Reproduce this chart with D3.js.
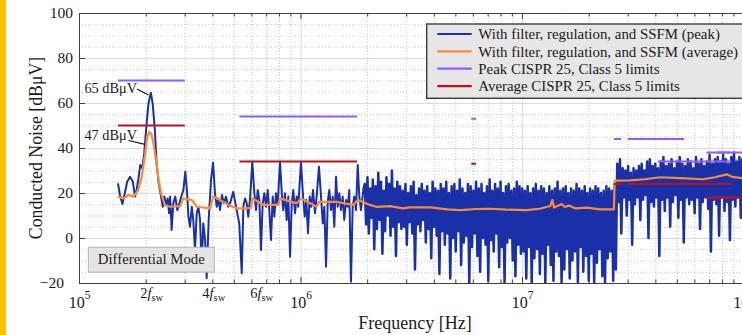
<!DOCTYPE html>
<html>
<head>
<meta charset="utf-8">
<script src="https://cdn.jsdelivr.net/npm/d3@7"></script>
<style>
  html, body { margin: 0; padding: 0; background: #fff; }
  svg { display: block; }
  text { font-family: "Liberation Serif", "Times New Roman", serif; fill: #1a1a1a; }
</style>
</head>
<body>
<svg id="chart" width="742" height="335"></svg>
<script>
// ---- data (frequencies in MHz, levels in dBuV) ----
// peak trace, low-frequency part where single harmonics are visible
const peakMHz = [0.150,0.153,0.157,0.161,0.165,0.170,0.175,0.179,0.182,0.186,
  0.189,0.193,0.197,0.202,0.206,0.211,0.215,0.220,0.224,0.229,
  0.234,0.239,0.243,0.247,0.2515,0.255,0.258,0.262,0.2665,0.272,
  0.278,0.284,0.291,0.296,0.302,0.307,0.312,0.317,0.323,0.328,
  0.334,0.340,0.346,0.352,0.358,0.364,0.371,0.377,0.385,0.3945,
  0.403,0.411,0.4185,0.4255,0.433,0.442,0.451,0.461,0.472,0.483,
  0.497,0.515,0.529,0.543,0.552,0.562,0.572,0.581,0.592,0.606,
  0.619,0.630,0.641,0.652,0.663,0.675,0.6865,0.699,0.711,0.723,
  0.736,0.749,0.762,0.775,0.789,0.808,0.825,0.836,0.851,0.866,
  0.881,0.897,0.913,0.928,0.9445,0.961,0.977,1.005,1.026,1.045,
  1.062,1.081,1.100,1.119,1.139,1.163,1.183,1.212,1.238,1.260,
  1.281,1.304,1.327,1.349,1.373,1.398,1.421,1.447,1.472,1.497,
  1.523,1.550,1.576,1.605,1.633,1.660,1.690,1.720,1.749,1.780,
  1.813,1.843,1.875,1.921];
const peakDB = [24.3,19.1,15.1,19.9,25,27.2,25,18.4,21.3,27.2,
  32.4,31,37.6,51,59.9,64.6,59.9,48,33.2,24.3,
  19.1,13.9,18.4,14.7,17.6,11,18.4,3.6,15.4,18.4,
  12.4,15.4,19.1,21.3,29.5,21.3,9.5,5,13.9,8,
  -5.3,11,13.9,8,-12.8,6.5,-0.9,-17.9,8,25.8,
  33.5,19.9,13.9,17.6,12.4,19.1,15.4,18.4,13.9,16,
  20.6,12.4,6.5,-15.7,13.9,17.6,15.4,9.5,17.6,33.9,
  19.9,12.4,21.3,16.9,-5.3,15.4,19.9,13.9,21.3,12.4,
  -0.9,18.4,9.5,19.9,14.7,33.9,18.4,12.4,19.9,8,
  18.4,-8.3,15.4,21.3,11,18.4,13.9,33.9,19.1,9.5,
  16.9,2.1,18.4,13.9,21.3,11,18.4,31.7,18.4,6.5,
  13.9,-12.8,16.1,21.3,12.4,18.4,5,27.2,13.9,19.9,
  12.4,18.4,8,16.9,13.9,21.3,-19.4,13.9,18.4,12.4,
  32.4,18.4,12.4,21.3];

// peak trace, dense part: measurement bins from 1.95 MHz to 100 MHz,
// read as alternating upper / lower excursions
const denseStartMHz = 1.95;
const denseStopMHz = 100;
const denseTop = [24,27,22,26,23,29,25,21,27,24,30,22,25,23,
  21,24,20,23,25,19,22,24,21,23,20,25,22,21,24,
  22,25,20,23,24,21,26,22,20,24,23,21,25,22,24,20,23,26,21,24,22,25,20,23,24,21,22,25,23,
  22,21,23,20,22,24,21,23,22,20,23,21,22,25,21,22,23,20,22,21,24,22,21,23,20,22,21,23,22,20,21,23,22,21,24,
  33,35,31,30,32,29,31,30,32,33,30,34,35,32,33,31,34,36,32,33,35,31,34,36,33,32,35,34,31,36,
  33,35,32,34,37,33,35,36,34,37,35,33,36,38,34,36,35];
const denseBottom = [6,2,9,-5,4,8,-7,3,10,1,5,-8,7,4,
  5,-3,7,2,-14,6,3,8,-2,4,-9,5,1,-16,3,
  -3,2,-18,0,-6,3,-12,-2,1,-20,-4,2,-8,-15,0,-3,-19,-1,-6,2,-13,-4,-20,-2,0,-10,-17,-3,-7,
  -6,-18,-4,-20,-9,-5,-16,-7,-20,-3,-12,-19,-6,-8,-20,-14,-5,-18,-10,-6,-20,-4,-15,-8,-19,-7,-20,-11,-5,-17,-20,-9,-6,-19,-14,
  16,2,18,10,17,-3,15,18,8,17,19,0,16,14,18,-8,17,12,18,5,16,19,9,17,-2,18,15,17,11,18,
  4,16,18,13,-6,17,15,1,18,12,16,-1,17,14,18,9,16];

// average trace
const avgMHz = [0.150,0.1585,0.167,0.176,0.185,0.192,0.199,0.203,0.208,0.213,
  0.218,0.224,0.230,0.236,0.244,0.2575,0.286,0.296,0.323,0.340,
  0.390,0.404,0.433,0.472,0.515,0.572,0.598,0.606,0.680,0.794,
  0.808,0.961,1.005,1.183,1.212,1.457,1.60,1.731,1.813,1.90,
  2.06,2.21,2.54,2.90,3.12,3.84,4.60,5.25,6.2,7.17,
  8.5,10.5,12.0,13.4,13.7,13.95,15.1,15.6,16.3,17.35,
  19.6,22.5,26.0,26.2,30.7,35.9,42.0,51.7,65.8,74.3,
  84.0,88.8,100];
const avgDB = [18.4,17.6,19.1,18.4,21.3,27.2,37.6,45.0,47.2,45.8,
  40.6,33.2,24.3,19.1,14.7,13.9,14.2,17.6,16.9,13.9,
  13.2,18.4,16.9,14.7,13.2,13.2,13.4,17.6,14.7,14.7,
  17.6,15.4,17.6,13.9,16.1,16.1,15.3,14.7,16.9,16.1,
  14.7,13.8,14.2,13.2,13.6,13.6,12.7,12.4,12.9,13.0,
  12.6,12.4,13.0,14.2,16.9,13.6,15.1,13.8,14.4,13.2,
  13.5,12.7,12.7,25.5,25.6,26.1,27.0,26.6,26.1,27.0,
  28.3,27.2,26.5];

// CISPR 25 class 5 limits: [start MHz, stop MHz, dBuV]
const peakLimits = [[0.15,0.3,70],[0.53,1.8,54],[5.9,6.2,53],[26,28,44],[30,54,44],[41,88,34],[68,87,38],[76,108,38]];
const avgLimits = [[0.15,0.3,50],[0.53,1.8,34],[5.9,6.2,33],[26,28,24],[30,54,24],[41,88,24],[68,87,18],[76,108,18]];

const yTicks = [-20, 0, 20, 40, 60, 80, 100];
const xDecades = [1e5, 1e6, 1e7, 1e8];
const harmonicLabels = [['2', 0.213], ['4', 0.406], ['6', 0.668]];
const legendNames = [
  'With filter, regulation, and SSFM (peak)',
  'With filter, regulation, and SSFM (average)',
  'Peak CISPR 25, Class 5 limits',
  'Average CISPR 25, Class 5 limits'];
const notes = [
  // text, text right end [MHz, dB], leader from [MHz,dB] to [MHz,dB]
  { text: '65 dB\u03bcV', at: [0.1827, 64.3], from: [0.1827, 66.2], to: [0.206, 63.6] },
  { text: '47 dB\u03bcV', at: [0.1827, 43.6], from: [0.1673, 43.3], to: [0.1986, 41.6] }];

// ---- layout ----
const W = 742, H = 335;
const plot = { left: 79, top: 13, right: 743.5, bottom: 283 };
const colors = { peak: '#1a30a8', avg: '#ff8a30', peakLim: '#8e5cff', avgLim: '#c40d1e' };

const x = d3.scaleLog().domain([1e5, 1e8]).range([plot.left, plot.right]);
const y = d3.scaleLinear().domain([-20, 100]).range([plot.bottom, plot.top]);
const mx = d => x(d * 1e6);

const svg = d3.select('#chart');
svg.append('rect').attr('width', 6).attr('height', H).attr('fill', '#ffc000');

const minorX = [];
for (const d of xDecades.slice(0, 3)) for (let m = 2; m <= 9; m++) minorX.push(d * m);
const minorY = d3.range(-15, 100, 5).filter(v => v % 20 !== 0);
const ph = plot.bottom - plot.top, pw = plot.right - plot.left;

// grid
const grid = svg.append('g');
grid.append('g').attr('transform', `translate(0,${plot.bottom})`)
  .call(d3.axisBottom(x).tickValues(minorX).tickSize(-ph).tickFormat(''))
  .call(g => g.select('.domain').remove())
  .call(g => g.selectAll('line').attr('stroke', '#c4c4c4').attr('stroke-dasharray', '1,2'));
grid.append('g').attr('transform', `translate(${plot.left},0)`)
  .call(d3.axisLeft(y).tickValues(minorY).tickSize(-pw).tickFormat(''))
  .call(g => g.select('.domain').remove())
  .call(g => g.selectAll('line').attr('stroke', '#c4c4c4').attr('stroke-dasharray', '1,2'));
grid.append('g').attr('transform', `translate(0,${plot.bottom})`)
  .call(d3.axisBottom(x).tickValues(xDecades).tickSize(-ph).tickFormat(''))
  .call(g => g.select('.domain').remove())
  .call(g => g.selectAll('line').attr('stroke', '#dcdcdc'));
grid.append('g').attr('transform', `translate(${plot.left},0)`)
  .call(d3.axisLeft(y).tickValues(yTicks).tickSize(-pw).tickFormat(''))
  .call(g => g.select('.domain').remove())
  .call(g => g.selectAll('line').attr('stroke', '#dcdcdc'));

// data
svg.append('clipPath').attr('id', 'clip').append('rect')
  .attr('x', plot.left).attr('y', plot.top).attr('width', pw).attr('height', ph);
const layer = svg.append('g').attr('clip-path', 'url(#clip)');

const lowPts = peakMHz.map((f, i) => [f, peakDB[i]]);
const densePts = [lowPts[lowPts.length - 1]];
const nDense = denseTop.length * 2;
const ratio = denseStopMHz / denseStartMHz;
denseTop.forEach((t, k) => {
  densePts.push([denseStartMHz * Math.pow(ratio, (2 * k) / (nDense - 1)), t]);
  densePts.push([denseStartMHz * Math.pow(ratio, (2 * k + 1) / (nDense - 1)), denseBottom[k]]);
});
const line = d3.line().x(d => mx(d[0])).y(d => y(d[1]));

layer.append('path').datum(lowPts)
  .attr('fill', 'none').attr('stroke', colors.peak).attr('stroke-width', 2)
  .attr('stroke-linejoin', 'round').attr('d', line);
layer.append('path').datum(densePts)
  .attr('fill', 'none').attr('stroke', colors.peak).attr('stroke-width', 2.5)
  .attr('stroke-linejoin', 'round').attr('d', line);
layer.append('path').datum(avgMHz.map((f, i) => [f, avgDB[i]]))
  .attr('fill', 'none').attr('stroke', colors.avg).attr('stroke-width', 2.2)
  .attr('stroke-linejoin', 'round').attr('d', line);

[[peakLimits, colors.peakLim], [avgLimits, colors.avgLim]].forEach(([lims, c]) => {
  layer.selectAll(null).data(lims).enter().append('line')
    .attr('x1', d => mx(d[0])).attr('x2', d => mx(d[1]))
    .attr('y1', d => y(d[2])).attr('y2', d => y(d[2]))
    .attr('stroke', c).attr('stroke-width', 2.2);
});

// axes (ticks pointing inward)
const axisColor = '#404040';
function styleAxis(g) {
  g.selectAll('line').attr('stroke', axisColor);
  g.select('.domain').attr('stroke', axisColor);
}
svg.append('g').attr('transform', `translate(0,${plot.bottom})`)
  .call(d3.axisBottom(x).tickValues(minorX).tickSizeInner(-3.5).tickSizeOuter(0).tickFormat(''))
  .call(styleAxis);
const bottomAxis = svg.append('g').attr('transform', `translate(0,${plot.bottom})`)
  .call(d3.axisBottom(x).tickValues(xDecades).tickSizeInner(-6).tickSizeOuter(0).tickFormat(''))
  .call(styleAxis);
svg.append('g').attr('transform', `translate(0,${plot.top})`)
  .call(d3.axisTop(x).tickValues(minorX).tickSizeInner(-3.5).tickSizeOuter(0).tickFormat(''))
  .call(styleAxis);
svg.append('g').attr('transform', `translate(0,${plot.top})`)
  .call(d3.axisTop(x).tickValues(xDecades).tickSizeInner(-6).tickSizeOuter(0).tickFormat(''))
  .call(styleAxis);
const leftAxis = svg.append('g').attr('transform', `translate(${plot.left},0)`)
  .call(d3.axisLeft(y).tickValues(yTicks).tickSizeInner(-6).tickSizeOuter(0).tickPadding(6))
  .call(styleAxis);
leftAxis.selectAll('text')
  .attr('font-family', '"Liberation Serif", serif').attr('font-size', 15.5).attr('fill', '#1a1a1a')
  .attr('dx', d => d === -20 ? -9 : 0);

// decade labels 10^n
bottomAxis.selectAll('.tick').each(function (d) {
  const t = d3.select(this).append('text').attr('y', 25).attr('text-anchor', 'middle')
    .attr('font-size', 16).attr('fill', '#1a1a1a');
  t.append('tspan').text('10');
  t.append('tspan').attr('dy', -9).attr('font-size', 11.5).text(Math.round(Math.log10(d)));
});

// harmonic labels
harmonicLabels.forEach(([n, f]) => {
  const t = svg.append('text').attr('x', mx(f)).attr('y', 298)
    .attr('text-anchor', 'middle').attr('font-size', 14.5);
  t.append('tspan').text(n);
  t.append('tspan').attr('font-style', 'italic').text('f');
  t.append('tspan').attr('font-size', 10.5).attr('dy', 2.5).text('sw');
});

// axis titles
svg.append('text').attr('x', 415).attr('y', 328.5).attr('text-anchor', 'middle')
  .attr('font-size', 18).text('Frequency [Hz]');
svg.append('text').attr('transform', `translate(42,${(plot.top + plot.bottom) / 2}) rotate(-90)`)
  .attr('text-anchor', 'middle').attr('font-size', 17.8).text('Conducted Noise [dB\u03bcV]');

// peak annotations
notes.forEach(n => {
  svg.append('text').attr('x', mx(n.at[0])).attr('y', y(n.at[1]))
    .attr('text-anchor', 'end').attr('font-size', 14.3).text(n.text);
  svg.append('line')
    .attr('x1', mx(n.from[0])).attr('y1', y(n.from[1]))
    .attr('x2', mx(n.to[0])).attr('y2', y(n.to[1]))
    .attr('stroke', '#111').attr('stroke-width', 1.1);
});

// "Differential Mode" box
const dmX0 = mx(0.1102), dmX1 = mx(0.408), dmY0 = y(-4.1), dmY1 = y(-15.2);
svg.append('rect').attr('x', dmX0).attr('y', dmY0)
  .attr('width', dmX1 - dmX0).attr('height', dmY1 - dmY0)
  .attr('fill', '#e4e4e4').attr('stroke', '#b4b4b4').attr('stroke-width', 1);
svg.append('text').attr('x', (dmX0 + dmX1) / 2).attr('y', dmY0 + 16.5)
  .attr('text-anchor', 'middle').attr('font-size', 14.8).text('Differential Mode');

// legend
const lg = svg.append('g').attr('transform', 'translate(426.7,24)');
lg.append('rect').attr('width', 330).attr('height', 74.3)
  .attr('fill', '#e6e6e6').attr('stroke', '#3a3a3a').attr('stroke-width', 1.4);
const lgColors = [colors.peak, colors.avg, colors.peakLim, colors.avgLim];
legendNames.forEach((name, i) => {
  const ry = 10 + i * 17.35;
  lg.append('line').attr('x1', 10.6).attr('x2', 45).attr('y1', ry).attr('y2', ry)
    .attr('stroke', lgColors[i]).attr('stroke-width', 2.2);
  lg.append('text').attr('x', 51.6).attr('y', ry + 5.2).attr('font-size', 14.9).text(name);
});
</script>
</body>
</html>
